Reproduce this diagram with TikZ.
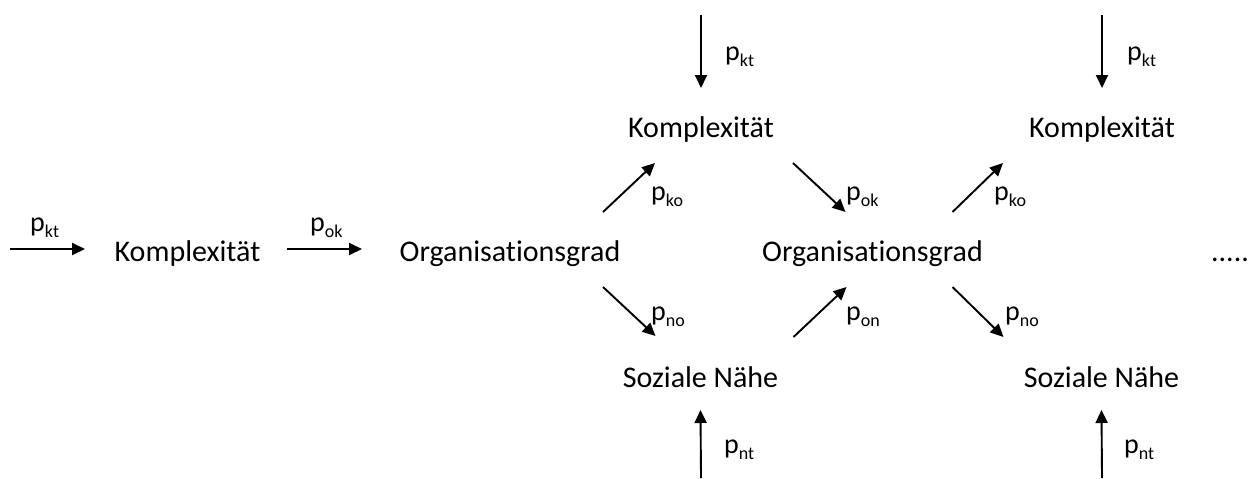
\documentclass[tikz,border=0pt]{standalone}
\usepackage{fontspec}
\setmainfont[Ligatures=NoCommon]{Carlito}
\usetikzlibrary{arrows.meta,calc}
\newcommand{\plab}[1]{p\raisebox{-6.5pt}{\fontsize{18}{19}\selectfont #1}}
\begin{document}
\begin{tikzpicture}[x=1pt,y=-1pt,
  term/.style={inner sep=0pt, anchor=base, font=\fontsize{30}{36}\selectfont},
  plabel/.style={inner sep=0pt, anchor=base west, font=\fontsize{28}{32}\selectfont},
  flow/.style={line width=1.9pt, -{Triangle[length=13pt,width=12pt]}}]
\useasboundingbox (0,0) rectangle (1250,479);
% terms
\node[term] (k1) at (187.5,261) {Komplexität};
\node[term] (o1) at (510,261) {Organisationsgrad};
\node[term] (k2) at (701,137) {Komplexität};
\node[term] (o2) at (872.5,261) {Organisationsgrad};
\node[term] (s2) at (700.5,387) {Soziale Nähe};
\node[term] (k3) at (1102,137) {Komplexität};
\node[term] (s3) at (1101.5,387) {Soziale Nähe};
\node[term] (dots) at (1230,261) {.....};
% free ends
\coordinate (in1) at (10,249);
\coordinate (top2) at (701,15);
\coordinate (bot2) at (701,478);
\coordinate (top3) at (1102,15);
\coordinate (bot3) at (1102,478);
% connectors
\draw[flow] (in1) -- ($(k1.base)+(-102.5,-12)$);
\draw[flow] ($(k1.base)+(99.5,-12)$) -- ($(o1.base)+(-148,-12)$);
\draw[flow] (top2) -- ($(k2.base)+(0,-49)$);
\draw[flow] ($(o1.base)+(93,-49)$) -- ($(k2.base)+(-46,26)$);
\draw[flow] ($(k2.base)+(92,26)$) -- ($(o2.base)+(-27,-49)$);
\draw[flow] ($(o1.base)+(93,26)$) -- ($(s2.base)+(-45,-51)$);
\draw[flow] ($(s2.base)+(93,-50)$) -- ($(o2.base)+(-26,26)$);
\draw[flow] (bot2) -- ($(s2.base)+(0,23)$);
\draw[flow] ($(o2.base)+(80,-49)$) -- ($(k3.base)+(-99,26)$);
\draw[flow] ($(o2.base)+(80,26)$) -- ($(s3.base)+(-98,-50)$);
\draw[flow] (top3) -- ($(k3.base)+(0,-49)$);
\draw[flow] (bot3) -- ($(s3.base)+(0,23)$);
% labels
\node[plabel] (l1) at (30,231) {\plab{kt}};
\node[plabel] (l2) at (310,231) {\plab{ok}};
\node[plabel] (l3) at (725,60) {\plab{kt}};
\node[plabel] (l4) at (651,200) {\plab{ko}};
\node[plabel] (l5) at (846,200) {\plab{ok}};
\node[plabel] (l6) at (651,320) {\plab{no}};
\node[plabel] (l7) at (846,320) {\plab{on}};
\node[plabel] (l8) at (724,453) {\plab{nt}};
\node[plabel] (l9) at (1127,60) {\plab{kt}};
\node[plabel] (l10) at (994,200) {\plab{ko}};
\node[plabel] (l11) at (1005,320) {\plab{no}};
\node[plabel] (l12) at (1124,453) {\plab{nt}};
\end{tikzpicture}
\end{document}
